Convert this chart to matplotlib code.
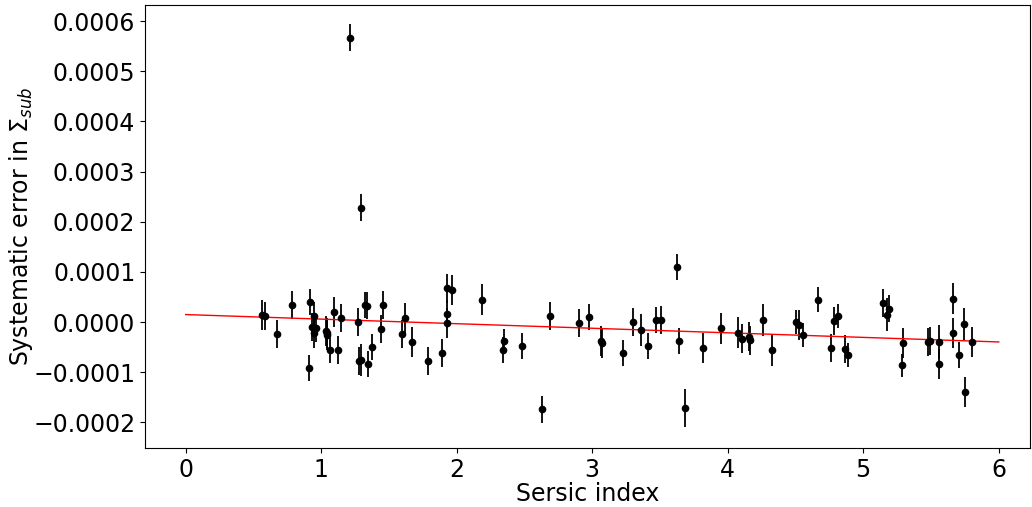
import numpy as np
import matplotlib
matplotlib.use("Agg")
import matplotlib.pyplot as plt

# Sersic index of each galaxy
sersic = [0.561, 0.583, 0.675, 0.783, 0.916, 0.913, 0.945, 0.935, 0.963, 0.945,
          1.039, 1.046, 1.044, 1.063, 1.095, 1.125, 1.145, 1.273, 1.278, 1.292,
          1.324, 1.339, 1.344, 1.374, 1.453, 1.443, 1.216, 1.295,
          1.600, 1.615, 1.667, 1.790, 1.891, 1.925, 1.962, 1.930, 1.930, 2.188,
          2.346, 2.339, 2.481, 2.627, 2.690,
          2.905, 2.974, 3.065, 3.072, 3.230, 3.304, 3.360, 3.414, 3.474, 3.506,
          3.629, 3.639, 3.688,
          3.816, 3.949, 4.074, 4.104, 4.156, 4.163, 4.262, 4.326, 4.507, 4.527,
          4.559, 4.665, 4.761, 4.786, 4.813, 4.867, 4.889,
          5.145, 5.177, 5.192, 5.293, 5.286, 5.480, 5.492, 5.561, 5.561, 5.660,
          5.662, 5.704, 5.746, 5.753, 5.803]

# systematic error (units of 1e-4)
syserr_e4 = [0.15, 0.13, -0.23, 0.34, 0.40, -0.91, 0.12, -0.10, -0.12, -0.21,
             -0.17, -0.21, -0.25, -0.56, 0.21, -0.56, 0.09, 0.01, -0.78, -0.76,
             0.34, 0.33, -0.84, -0.49, 0.34, -0.14, 5.67, 2.28,
             -0.23, 0.09, -0.39, -0.77, -0.61, 0.67, 0.64, 0.17, -0.01, 0.45,
             -0.37, -0.55, -0.47, -1.74, 0.13,
             -0.01, 0.11, -0.37, -0.41, -0.61, 0.01, -0.15, -0.48, 0.05, 0.05,
             1.10, -0.38, -1.72,
             -0.52, -0.12, -0.21, -0.33, -0.29, -0.36, 0.04, -0.56, 0.00, -0.05,
             -0.25, 0.45, -0.51, 0.03, 0.13, -0.54, -0.65,
             0.38, 0.15, 0.27, -0.42, -0.86, -0.40, -0.37, -0.40, -0.84, 0.47,
             -0.22, -0.66, -0.04, -1.39, -0.39]

# error bar half-lengths (units of 1e-4)
errbar_e4 = [0.30, 0.28, 0.28, 0.28, 0.26, 0.26, 0.28, 0.28, 0.28, 0.30,
             0.30, 0.30, 0.30, 0.26, 0.30, 0.28, 0.28, 0.28, 0.28, 0.32,
             0.26, 0.26, 0.26, 0.26, 0.28, 0.28, 0.27, 0.27,
             0.28, 0.30, 0.30, 0.28, 0.28, 0.28, 0.30, 0.28, 0.30, 0.30,
             0.24, 0.26, 0.26, 0.27, 0.28,
             0.28, 0.26, 0.30, 0.30, 0.26, 0.28, 0.32, 0.26, 0.26, 0.28,
             0.26, 0.26, 0.38,
             0.30, 0.31, 0.31, 0.29, 0.29, 0.29, 0.32, 0.31, 0.24, 0.30,
             0.24, 0.24, 0.28, 0.28, 0.24, 0.28, 0.24,
             0.28, 0.33, 0.27, 0.30, 0.23, 0.28, 0.28, 0.34, 0.30, 0.30,
             0.30, 0.26, 0.32, 0.30, 0.30]

# linear fit
fit_x = [0.0, 6.0]
fit_intercept = 0.15e-4
fit_slope = -0.091e-4

x = np.array(sersic)
y = np.array(syserr_e4) * 1e-4
yerr = np.array(errbar_e4) * 1e-4

fig = plt.figure(figsize=(10.32, 5.07), dpi=100)
ax = fig.add_axes([0.1405, 0.1164, 0.8575, 0.8736])

ax.errorbar(x, y, yerr=yerr, fmt='o', color='black', ecolor='black',
            ms=4.5, elinewidth=1.3, capsize=0)
fx = np.array(fit_x)
ax.plot(fx, fit_intercept + fit_slope * fx, color='red', lw=1)

ax.set_xlim(-0.30, 6.23)
ax.set_ylim(-2.51e-4, 6.32e-4)
ax.set_xticks([0, 1, 2, 3, 4, 5, 6])
ax.set_yticks(np.arange(-2, 7) * 1e-4)
ax.tick_params(labelsize=17)
ax.set_yticklabels([('\u2212' if v < 0 else '') + '%.4f' % abs(v * 1e-4)
                    for v in range(-2, 7)])
ax.set_xlabel('Sersic index', fontsize=17, labelpad=0)
ax.set_ylabel(r'Systematic error in $\Sigma_{sub}$', fontsize=17, labelpad=-1)

fig.savefig('out.png', dpi=100)
